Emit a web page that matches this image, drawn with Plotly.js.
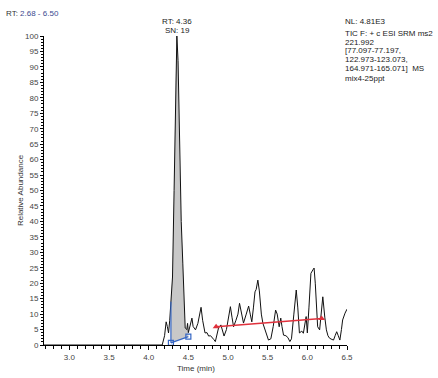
<!DOCTYPE html>
<html>
<head>
<meta charset="utf-8">
<script src="https://cdn.plot.ly/plotly-3.0.1.min.js"></script>
<style>html,body{margin:0;padding:0;background:#fff;}#chart{width:438px;height:378px;}</style>
</head>
<body>
<div id="chart"></div>
<script>
// Chromatogram trace (time in min, relative abundance %)
const timeMin = [2.68, 4.17, 4.20, 4.22, 4.235, 4.25, 4.265, 4.28, 4.29, 4.30, 4.32, 4.34, 4.355, 4.37, 4.39, 4.41, 4.43, 4.45, 4.46, 4.48, 4.49, 4.50, 4.52, 4.545, 4.56, 4.59, 4.62, 4.645, 4.66, 4.68, 4.71, 4.735, 4.755, 4.78, 4.80, 4.82, 4.84, 4.86, 4.88, 4.91, 4.93, 4.95, 4.98, 5.01, 5.03, 5.05, 5.07, 5.10, 5.125, 5.145, 5.17, 5.195, 5.23, 5.26, 5.28, 5.30, 5.32, 5.34, 5.355, 5.376, 5.395, 5.42, 5.44, 5.47, 5.49, 5.51, 5.54, 5.57, 5.60, 5.62, 5.645, 5.665, 5.68, 5.70, 5.73, 5.755, 5.78, 5.80, 5.83, 5.86, 5.88, 5.90, 5.93, 5.95, 5.985, 6.00, 6.02, 6.045, 6.07, 6.085, 6.10, 6.11, 6.13, 6.155, 6.175, 6.195, 6.22, 6.24, 6.26, 6.28, 6.31, 6.33, 6.35, 6.37, 6.39, 6.41, 6.43, 6.445, 6.475, 6.50];
const abundance = [0, 0, 3, 7.5, 6, 3.9, 8, 14, 19, 22, 50, 85, 100, 92, 59, 40, 26.5, 10.4, 5.5, 5, 7, 4, 6, 8.7, 6, 4.9, 7, 11, 12.2, 8, 3.9, 4, 2.9, 3, 2.2, 1.8, 1.1, 3.5, 5.5, 6.5, 5, 2.9, 5, 10, 12.4, 9, 5.9, 8, 10, 13.5, 10, 7.1, 10, 12.6, 10, 7.5, 12, 17.2, 18, 21, 17.5, 10, 7, 4.9, 3, 1.6, 2, 6, 11.3, 10, 5.9, 8.7, 6, 3.2, 3, 2.4, 1.1, 2, 10, 17.8, 12, 3.9, 4.5, 3.8, 9.2, 3.9, 12, 23.2, 24.3, 24.9, 20, 15.6, 5.9, 4.9, 10, 15.6, 9, 4.9, 3, 2.2, 1.8, 1.6, 3, 4.3, 3, 1.6, 5, 8.1, 10.3, 11.6];

// Integrated peak baseline (blue) and noise line (red)
const peakBaseT = [4.28, 4.50];
const peakBaseY = [0.7, 2.7];
const noiseT = [4.85, 6.18];
const noiseY = [5.9, 8.6];

// Axis ticks
const xTicks = [3.0, 3.5, 4.0, 4.5, 5.0, 5.5, 6.0, 6.5];
const yTicks = [0, 5, 10, 15, 20, 25, 30, 35, 40, 45, 50, 55, 60, 65, 70, 75, 80, 85, 90, 95, 100];

// Header texts
const rangeLabel = "2.68 - 6.50";
const peakLabel = ["RT: 4.36", "SN: 19"];
const infoLines = ["NL: 4.81E3", "TIC F: + c ESI SRM ms2", "221.992", "[77.097-77.197,", "122.973-123.073,", "164.971-165.071]  MS", "mix4-25ppt"];
const infoY = [21.7, 33, 42, 51, 60, 69, 78];
const xTitle = "Time (min)";

// Build the filled peak polygon from the data
const fillT = [], fillY = [];
for (let i = 0; i < timeMin.length; i++) {
  if (timeMin[i] >= peakBaseT[0] && timeMin[i] <= peakBaseT[1]) { fillT.push(timeMin[i]); fillY.push(abundance[i]); }
}
fillT.push(peakBaseT[1]); fillY.push(peakBaseY[1]);
fillT.push(peakBaseT[0]); fillY.push(peakBaseY[0]);

const FONT = "Liberation Sans, Arial, sans-serif";
const W = 438, H = 378;
const M = {l: 44, r: 91, t: 36, b: 33};
const plotH = H - M.t - M.b;
const plotW = W - M.l - M.r;
const py = (pix) => (H - M.b - pix) / plotH;
const px = (pix) => (pix - M.l) / plotW;

const traces = [
  {x: fillT, y: fillY, type: 'scatter', mode: 'none', fill: 'toself', fillcolor: '#c8c8c8', hoverinfo: 'skip'},
  {x: timeMin, y: abundance, type: 'scatter', mode: 'lines', line: {color: '#111', width: 1}},
  {x: [peakBaseT[0], peakBaseT[0]], y: [peakBaseY[0], abundance[timeMin.indexOf(peakBaseT[0])]], type: 'scatter', mode: 'lines', line: {color: '#3566c4', width: 1.2}},
  {x: peakBaseT, y: peakBaseY, type: 'scatter', mode: 'lines+markers', line: {color: '#3566c4', width: 1.2},
   marker: {symbol: 'square-open', size: 5, color: '#3566c4', line: {width: 1.2}}},
  {x: noiseT, y: noiseY, type: 'scatter', mode: 'lines+markers', line: {color: '#e0313c', width: 1.5},
   marker: {symbol: 'triangle-up', size: 6, color: '#e0313c'}}
];

const annotations = [
  {xref: 'paper', yref: 'paper', x: px(4), y: py(13), xanchor: 'left', yanchor: 'middle', showarrow: false,
   text: 'RT: <span style="color:#3b4a8f">' + rangeLabel + '</span>', font: {size: 8, color: '#333', family: FONT}},
  {xref: 'x', yref: 'paper', x: 4.36, y: py(21.7), xanchor: 'center', yanchor: 'middle', showarrow: false,
   text: peakLabel[0], font: {size: 8, color: '#222', family: FONT}},
  {xref: 'x', yref: 'paper', x: 4.36, y: py(30.7), xanchor: 'center', yanchor: 'middle', showarrow: false,
   text: peakLabel[1], font: {size: 8, color: '#222', family: FONT}},
  {xref: 'paper', yref: 'paper', x: 0.5, y: py(368), xanchor: 'center', yanchor: 'middle', showarrow: false,
   text: xTitle, font: {size: 8, color: '#333', family: FONT}}
];
infoLines.forEach((t, i) => annotations.push({
  xref: 'paper', yref: 'paper', x: px(343), y: py(infoY[i]), xanchor: 'left', yanchor: 'middle', showarrow: false,
  text: t, font: {size: 8, color: '#222', family: FONT}
}));

const layout = {
  width: W, height: H, margin: M, showlegend: false,
  paper_bgcolor: '#fff', plot_bgcolor: '#fff',
  font: {family: FONT, size: 8, color: '#333'},
  xaxis: {range: [2.68, 6.5], tickvals: xTicks, ticktext: xTicks.map(v => v.toFixed(1)),
    showline: true, linecolor: '#000', linewidth: 1, ticks: 'outside', ticklen: 4, tickcolor: '#000', tickwidth: 1,
    minor: {dtick: 0.1, tick0: 0, ticks: 'outside', ticklen: 2.5, tickcolor: '#000', showgrid: false},
    showgrid: false, zeroline: false, tickfont: {size: 8, color: '#444'}},
  yaxis: {range: [0, 100], tickvals: yTicks, ticktext: yTicks.map(String),
    showline: true, linecolor: '#000', linewidth: 1, ticks: 'outside', ticklen: 3, tickcolor: '#000', tickwidth: 1,
    minor: {dtick: 1, tick0: 0, ticks: 'outside', ticklen: 2, tickcolor: '#000', showgrid: false},
    showgrid: false, zeroline: false, tickfont: {size: 8, color: '#444'},
    title: {text: 'Relative Abundance', font: {size: 8, color: '#333'}, standoff: 0}},
  annotations: annotations
};

Plotly.newPlot('chart', traces, layout, {displayModeBar: false, staticPlot: true});
</script>
</body>
</html>
